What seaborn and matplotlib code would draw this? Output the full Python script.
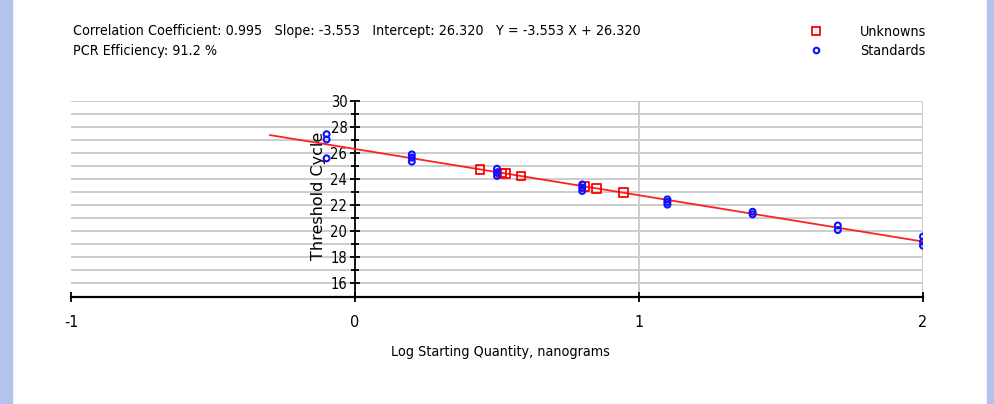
import matplotlib
matplotlib.use("Agg")
import matplotlib.pyplot as plt
from matplotlib.patches import Rectangle
from matplotlib.lines import Line2D
import seaborn as sns
import pandas as pd
import numpy as np

# ---- data ----
std_x = [-0.1, -0.1, -0.1,
         0.2, 0.2, 0.2,
         0.5, 0.5, 0.5,
         0.8, 0.8, 0.8,
         1.1, 1.1, 1.1,
         1.4, 1.4,
         1.7, 1.7,
         2.0, 2.0, 2.0]
std_y = [27.45, 27.05, 25.6,
         25.9, 25.65, 25.35,
         24.8, 24.5, 24.25,
         23.6, 23.35, 23.1,
         22.45, 22.25, 22.05,
         21.5, 21.3,
         20.45, 20.1,
         19.6, 19.2, 18.9]
unk_x = [0.44, 0.515, 0.53, 0.585, 0.81, 0.85, 0.945]
unk_y = [24.76, 24.49, 24.44, 24.24, 23.44, 23.30, 22.96]
slope = -3.553
intercept = 26.320
line_x = [-0.3, 2.0]
x_ticks = [-1, 0, 1, 2]
y_ticks = [16, 18, 20, 22, 24, 26, 28, 30]
header1 = "Correlation Coefficient: 0.995   Slope: -3.553   Intercept: 26.320   Y = -3.553 X + 26.320"
header2 = "PCR Efficiency: 91.2 %"

sns.set_style("white")
plt.rcParams["font.family"] = ["DejaVu Sans"]
plt.rcParams["font.stretch"] = "condensed"
plt.rcParams["text.color"] = "black"
plt.rcParams["xtick.color"] = "black"
plt.rcParams["ytick.color"] = "black"

W, H = 995, 404
fig = plt.figure(figsize=(W / 100, H / 100), dpi=100)
fig.patch.set_facecolor("white")

# blue side borders
fig.patches.append(Rectangle((0, 0), 12 / W, 1, transform=fig.transFigure,
                             color="#b3c3ee", zorder=0))
fig.patches.append(Rectangle((987 / W, 0), 8 / W, 1, transform=fig.transFigure,
                             color="#b3c3ee", zorder=0))

x0, x1 = 71, 923
yb, yt = 296.5, 101
ax = fig.add_axes([x0 / W, 1 - yb / H, (x1 - x0) / W, (yb - yt) / H])
ax.set_facecolor("white")

ax.set_xlim(-1, 2)
ax.set_ylim(15, 30)

# grid
for g in range(16, 31):
    ax.axhline(g, color="#cccccc", lw=1.4, zorder=0)
for g in [1, 2]:
    ax.axvline(g, color="#cccccc", lw=1.4, zorder=0)

# regression line
line_df = pd.DataFrame({"x": line_x, "y": [slope * v + intercept for v in line_x]})
sns.lineplot(data=line_df, x="x", y="y", ax=ax, color="#ff2020", lw=1.3, zorder=3)

std_df = pd.DataFrame({"x": std_x, "y": std_y})
unk_df = pd.DataFrame({"x": unk_x, "y": unk_y})
sns.scatterplot(data=unk_df, x="x", y="y", ax=ax, marker="s", s=38,
                facecolor="none", edgecolor="#ff0000", linewidth=1.3, zorder=4)
sns.scatterplot(data=std_df, x="x", y="y", ax=ax, marker="o", s=18,
                facecolor="none", edgecolor="#1010ff", linewidth=1.5, zorder=5)

# spines
for s in ["top", "right"]:
    ax.spines[s].set_visible(False)
ax.spines["left"].set_position(("data", 0))
ax.spines["left"].set_color("black")
ax.spines["left"].set_linewidth(1.3)
ax.spines["bottom"].set_color("black")
ax.spines["bottom"].set_linewidth(1.6)

ax.set_xticks(x_ticks)
ax.set_xticklabels([str(v) for v in x_ticks])
ax.set_yticks(y_ticks)
ax.set_yticklabels([str(v) for v in y_ticks])
ax.set_yticks(range(15, 31), minor=True)
ax.tick_params(axis="y", which="major", direction="inout", length=7, width=1.3,
               labelsize=10.5, pad=2, left=True)
ax.tick_params(axis="y", which="minor", direction="inout", length=6, width=1.3, left=True)
ax.tick_params(axis="x", which="major", direction="inout", length=7, width=1.3,
               labelsize=11.5, pad=10, bottom=True)
ax.set_xlabel("")
ax.set_ylabel("")

fig.text(500 / W, 1 - 352 / H, "Log Starting Quantity, nanograms",
         ha="center", va="center", fontsize=10.3)
fig.text(319 / W, 1 - 196 / H, "Threshold Cycle", rotation=90,
         ha="center", va="center", fontsize=11.5, fontstretch="normal")

fig.text(73 / W, 1 - 31 / H, header1, ha="left", va="center", fontsize=10.3)
fig.text(73 / W, 1 - 51 / H, header2, ha="left", va="center", fontsize=10.3)

handles = [Line2D([], [], ls="none", marker="s", ms=5.5, mfc="none", mec="#ff0000", mew=1.3),
           Line2D([], [], ls="none", marker="o", ms=4, mfc="none", mec="#1010ff", mew=1.5)]
fig.legend(handles, ["Unknowns", "Standards"], loc="upper left",
           bbox_to_anchor=(800 / W, 1 - 19 / H), frameon=False, fontsize=10.3,
           handletextpad=2.3, labelspacing=0.4, borderaxespad=0, handlelength=1.5)

fig.savefig("out.png", dpi=100, facecolor="white")
